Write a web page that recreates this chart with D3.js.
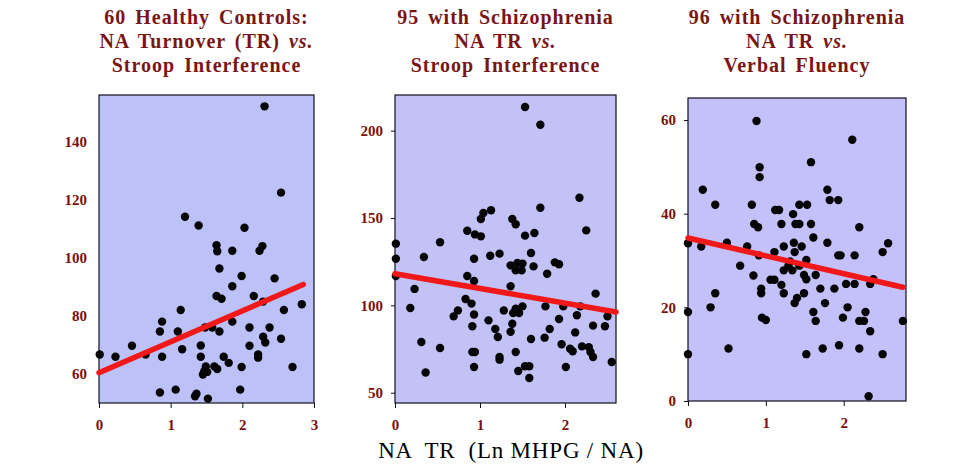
<!DOCTYPE html>
<html>
<head>
<meta charset="utf-8">
<script src="https://cdn.jsdelivr.net/npm/d3@7"></script>
<style>
  body { margin: 0; background: #fff; }
  svg { display: block; }
  .tick text { font-family: "Liberation Serif", "Times New Roman", serif; font-weight: bold; font-size: 15px; fill: #7a1010; }
  .title { font-family: "Liberation Serif", "Times New Roman", serif; font-weight: bold; font-size: 20px; fill: #7a1515; letter-spacing: 1px; word-spacing: 3px; }
</style>
</head>
<body>
<svg width="959" height="471"></svg>
<script>
// Panel 1: 60 healthy controls, NA TR vs Stroop interference
var hcX = [0.01,0.23,0.46,0.65,0.85,0.85,0.88,0.88,1.07,1.10,1.14,1.16,1.20,1.34,1.36,1.39,1.42,1.42,1.45,1.48,
           1.49,1.51,1.52,1.58,1.61,1.64,1.65,1.64,1.65,1.68,1.68,1.71,1.74,1.81,1.86,1.86,1.86,1.97,1.99,1.99,
           2.03,2.10,2.10,2.16,2.22,2.22,2.24,2.28,2.29,2.29,2.31,2.32,2.38,2.45,2.54,2.54,2.58,2.70,2.83,1.47];
var hcY = [66.7,65.9,69.7,66.7,53.6,74.6,78.0,65.9,54.6,74.6,82.0,68.5,114.1,52.3,53.2,111.1,69.8,65.9,59.8,76.0,
           62.6,60.7,51.5,76.0,62.6,104.3,102.2,86.8,61.7,96.3,74.6,85.9,65.9,63.8,102.4,90.2,78.0,54.6,93.7,62.4,
           110.3,76.0,69.7,86.8,66.7,65.6,102.4,104.0,72.8,84.9,152.1,70.8,76.0,92.9,122.4,72.1,82.0,62.4,84.0,61.0];
var hcFitX = [0, 2.85];
var hcFitY = [60.4, 90.8];

// Panel 2: 95 with schizophrenia, NA TR vs Stroop interference
var szStroopX = [0.01,0.01,0.01,0.18,0.23,0.31,0.34,0.36,0.53,0.53,0.69,0.74,0.83,0.85,0.85,0.90,0.91,0.91,0.94,0.93,
                 0.93,0.93,0.93,0.94,1.01,1.01,1.04,1.13,1.10,1.12,1.18,1.21,1.23,1.23,1.23,1.28,1.36,1.36,1.36,1.38,
                 1.38,1.39,1.42,1.42,1.42,1.42,1.44,1.45,1.46,1.49,1.50,1.50,1.53,1.53,1.53,1.58,1.58,1.60,1.60,1.63,
                 1.64,1.71,1.71,1.77,1.76,1.79,1.82,1.88,1.93,1.93,1.96,1.98,2.01,2.06,2.09,2.12,2.14,2.17,2.18,2.20,
                 2.25,2.28,2.30,2.33,2.33,2.36,2.47,2.50,2.55];
var szStroopY = [135.3,126.7,116.8,98.5,109.4,79.0,127.7,61.6,136.1,75.6,93.7,97.1,103.6,116.8,142.7,101.0,88.0,73.3,73.3,64.7,
                 94.8,113.9,126.7,140.6,139.5,149.4,152.9,154.4,91.4,128.4,86.5,81.9,129.6,70.4,68.9,97.1,110.9,122.9,84.9,149.4,
                 89.5,95.6,146.4,98.1,73.3,120.0,124.2,62.4,95.6,120.0,123.9,99.4,139.9,213.5,65.1,65.1,58.4,130.0,80.7,122.3,
                 141.4,203.4,155.9,99.4,81.5,118.1,86.5,124.6,123.5,92.2,77.7,99.4,64.7,75.2,73.7,84.5,94.3,161.6,99.4,76.5,
                 142.9,76.1,73.3,70.4,88.4,106.7,88.0,93.7,67.6];
var szStroopFitX = [0, 2.6];
var szStroopFitY = [118.1, 96.2];

// Panel 3: 96 with schizophrenia, NA TR vs verbal fluency
var szFluX = [0.00,0.00,0.00,0.17,0.19,0.29,0.35,0.35,0.50,0.52,0.67,0.76,0.82,0.84,0.85,0.88,0.90,0.91,0.92,0.92,
              0.94,0.94,0.95,1.00,1.06,1.11,1.11,1.12,1.17,1.20,1.20,1.23,1.23,1.23,1.29,1.31,1.34,1.35,1.36,1.37,
              1.37,1.38,1.40,1.43,1.43,1.43,1.46,1.49,1.49,1.52,1.52,1.52,1.53,1.58,1.58,1.61,1.61,1.64,1.64,1.70,
              1.73,1.76,1.79,1.79,1.82,1.88,1.93,1.93,1.94,1.96,1.99,2.03,2.05,2.11,2.14,2.14,2.20,2.20,2.20,2.26,
              2.28,2.32,2.34,2.34,2.38,2.50,2.50,2.57,2.76];
var szFluY = [33.7,19.0,10.0,33.0,45.1,20.0,23.0,41.9,33.8,11.2,28.9,33.0,41.9,26.8,37.8,59.8,37.1,31.1,49.9,47.8,
              24.0,23.0,17.8,17.3,25.9,25.9,31.8,40.8,40.8,37.8,24.8,33.0,27.9,23.0,28.9,29.8,27.9,39.9,33.8,31.8,
              20.9,37.8,22.0,37.8,28.9,41.9,33.0,26.9,23.0,30.1,26.0,10.0,41.9,51.0,37.8,34.9,19.0,26.9,17.1,24.0,
              11.2,20.9,33.8,45.1,42.9,24.0,42.9,31.1,11.9,31.1,17.8,25.0,20.0,55.8,31.1,25.0,37.1,17.1,11.2,17.1,
              19.0,1.0,14.9,25.0,26.0,31.8,10.0,33.7,17.1];
var szFluFitX = [0, 2.76];
var szFluFitY = [34.8, 24.3];

var titles = [
    ['60 Healthy Controls:', ['NA Turnover (TR) ', 'vs.'], 'Stroop Interference'],
    ['95 with Schizophrenia', ['NA TR ', 'vs.'], 'Stroop Interference'],
    ['96 with Schizophrenia', ['NA TR ', 'vs.'], 'Verbal Fluency']
];
var yTickValues = [[60, 80, 100, 120, 140], [50, 100, 150, 200], [0, 20, 40, 60]];
var xTickValues = [[0, 1, 2, 3], [0, 1, 2], [0, 1, 2]];
var xLabel = 'NA  TR  (Ln MHPG / NA)';

var svg = d3.select('svg');

// layout per panel (pixel boxes and axis ranges)
var panels = [
    {l: 99, r: 314, t: 95, b: 403, xd: [0, 3], yd: [50, 156], fill: '#bcc2f8', ytick: 0,
     xs: hcX, ys: hcY, fx: hcFitX, fy: hcFitY},
    {l: 395, r: 616, t: 95, b: 403, xd: [0, 2.6], yd: [44.1, 220.4], fill: '#c2c2f6', ytick: 4,
     xs: szStroopX, ys: szStroopY, fx: szStroopFitX, fy: szStroopFitY},
    {l: 688, r: 906, t: 98, b: 401, xd: [0, 2.8], yd: [0, 64.7], fill: '#c4c0f9', ytick: 4,
     xs: szFluX, ys: szFluY, fx: szFluFitX, fy: szFluFitY}
];

panels.forEach(function(p, i) {
    var x = d3.scaleLinear().domain(p.xd).range([p.l, p.r]);
    var y = d3.scaleLinear().domain(p.yd).range([p.b, p.t]);

    var g = svg.append('g');

    g.append('rect')
        .attr('x', p.l).attr('y', p.t)
        .attr('width', p.r - p.l).attr('height', p.b - p.t)
        .attr('fill', p.fill)
        .attr('stroke', '#101020').attr('stroke-width', 1.2);

    // points
    var pts = p.xs.map(function(v, k) { return [v, p.ys[k]]; });
    g.selectAll('.dot').data(pts).enter()
        .append('circle')
        .attr('class', 'dot')
        .attr('cx', function(d) { return x(d[0]); })
        .attr('cy', function(d) { return y(d[1]); })
        .attr('r', 4.2)
        .attr('fill', '#050505');

    // regression line
    var line = d3.line().x(function(d) { return x(d[0]); }).y(function(d) { return y(d[1]); });
    g.append('path')
        .datum(p.fx.map(function(v, k) { return [v, p.fy[k]]; }))
        .attr('d', line)
        .attr('fill', 'none')
        .attr('stroke', '#f01818')
        .attr('stroke-width', 5.5)
        .attr('stroke-linecap', 'round');

    // axes
    var xAxisG = g.append('g')
        .attr('transform', 'translate(0,' + p.b + ')')
        .call(d3.axisBottom(x).tickValues(xTickValues[i]).tickFormat(d3.format('d')).tickSize(5).tickSizeOuter(0));
    xAxisG.select('.domain').remove();
    xAxisG.selectAll('line').attr('stroke', '#101020');
    xAxisG.selectAll('text').attr('dy', '0.71em').attr('y', 16);

    var yAxisG = g.append('g')
        .attr('transform', 'translate(' + p.l + ',0)')
        .call(d3.axisLeft(y).tickValues(yTickValues[i]).tickSize(p.ytick).tickSizeOuter(0));
    yAxisG.select('.domain').remove();
    yAxisG.selectAll('line').attr('stroke', '#101020');
    yAxisG.selectAll('text').attr('x', -12);

    // title
    var cx = (p.l + p.r) / 2;
    var t = svg.append('text').attr('class', 'title').attr('text-anchor', 'middle');
    t.append('tspan').attr('x', cx).attr('y', 24).text(titles[i][0]);
    var l2 = t.append('tspan').attr('x', cx).attr('y', 48);
    l2.append('tspan').text(titles[i][1][0]);
    l2.append('tspan').attr('font-style', 'italic').text(titles[i][1][1]);
    t.append('tspan').attr('x', cx).attr('y', 72).text(titles[i][2]);
});

svg.append('text')
    .attr('x', 511).attr('y', 458)
    .attr('text-anchor', 'middle')
    .attr('font-family', '"Liberation Serif", "Times New Roman", serif')
    .attr('font-size', 23)
    .attr('letter-spacing', 0.8)
    .attr('fill', '#000')
    .style('white-space', 'pre')
    .text(xLabel);
</script>
</body>
</html>
